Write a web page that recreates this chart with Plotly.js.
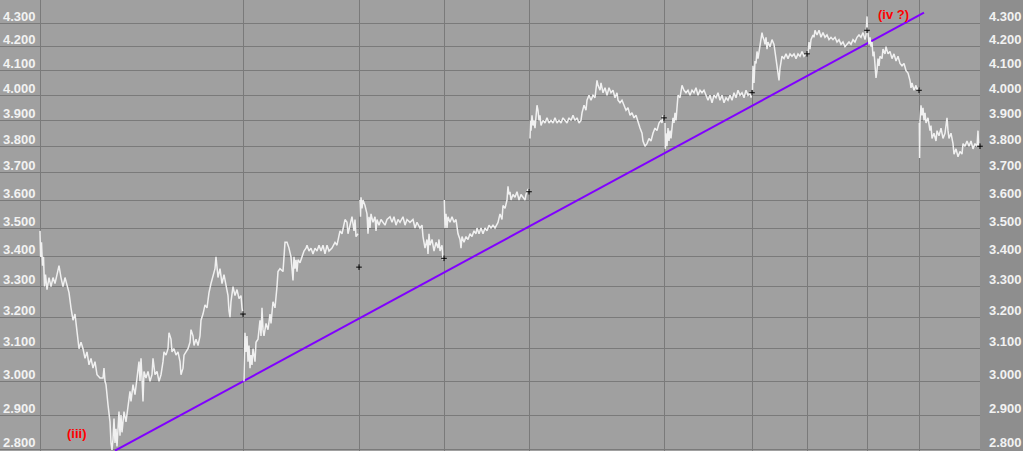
<!DOCTYPE html>
<html>
<head>
<meta charset="utf-8">
<script src="https://cdn.plot.ly/plotly-3.0.1.min.js"></script>
<style>
  html, body { margin: 0; padding: 0; background: #8e8e8e; }
  #chart { width: 1023px; height: 451px; }
</style>
</head>
<body>
<div id="chart"></div>
<script>
// ---- data (time index t = intraday bar position, price) ----
// sessions are separated by null (gap between trading days)
const priceT = [
  0,0.6,1.5,2.5,3.5,4.5,5.5,7,9,11,13,15,17,19,21,23,25,27,29,31,33,35,37,39,41,43,45,47,49,51,53,55,57,60,63,64,65,66,68,70,71,72,73,74,75,76,77,78,79,80,81,82,84,86,88,90,91,93,95,97,99,100,101,102,103,104,106,108,110,112,113,115,117,119,121,123,124,126,128,129,131,132,134,136,138,140,141,143,144,146,148,150,151,153,154,156,158,160,161,163,165,167,169,171,173,175,176,177,178,180,182,184,186,188,189,190,191,193,195,197,199,201,202,203,
  null,
  204,204.5,205,206,207,208,209,210,211,212,213,215,216,218,220,221,222,223,224,226,228,230,231,233,235,237,238,240,243,245,247,249,251,253,254,255,256,257,258,260,262,264,266,267,269,271,273,275,277,279,281,283,285,287,289,292,295,297,300,302,305,307,308,310,312,314,315,316,318,
  null,
  320,320.5,321,322,323,325,327,328,329,330,331,333,335,336,337,339,341,343,345,347,350,352,354,356,358,360,363,365,367,370,373,375,377,380,382,383,385,387,388,389,390,392,394,396,398,399,400,402,403,
  null,
  404.3,405,406,407,408,410,412,414,416,417,418,420,421,422,424,426,428,430,432,434,436,437,439,441,443,445,447,449,451,453,455,458,460,462,463,465,467,468,469,470,471,473,475,477,479,481,483,485,486,488,489,
  null,
  490,490.5,491,492,493,494,495,497,498,499,500,501,503,505,507,509,511,513,515,517,519,521,523,525,527,529,531,533,535,537,539,541,542,544,546,547,549,551,553,555,556,557,558,560,561,563,565,567,569,571,573,575,577,578,580,582,584,586,588,590,592,594,596,598,600,602,603,605,607,609,611,613,615,617,619,621,622,623,624,
  null,
  625,625.3,626,627,628,629,630,631,632,633,634,635,636,638,640,642,644,646,648,650,652,654,656,658,660,662,664,666,668,670,672,674,676,678,680,682,684,686,688,690,692,694,696,698,700,702,704,706,708,710,711,712,
  null,
  712.5,713,714,715,716,717,718,720,721,722,723,724,725,726,727,728,730,732,734,735,736,737,738,739,740,741,742,744,746,748,750,752,754,756,758,760,762,764,766,767,
  null,
  768,769,770,771,773,774,775,777,779,781,783,785,787,789,791,793,795,797,799,801,803,805,807,809,811,813,815,817,819,821,823,825,826,827,827.3,
  null,
  828,829,830,831,832,833,834,835,836,837,838,839,840,842,843,845,846,848,850,852,854,856,858,860,862,864,866,868,870,871,872,874,876,877,878,879,
  null,
  879.3,879.6,880,881,882,883,884,885,886,888,889,890,891,892,894,896,897,899,901,903,905,906,907,908,909,911,913,914,916,918,920,922,923,925,927,929,931,933,935,937,938,938.5,939
];
const priceP = [
  3.49,3.40,3.45,3.37,3.40,3.30,3.34,3.29,3.33,3.30,3.33,3.31,3.34,3.37,3.33,3.30,3.33,3.30,3.28,3.23,3.19,3.21,3.16,3.10,3.12,3.10,3.07,3.09,3.05,3.07,3.04,3.06,3.02,3.01,3.01,3.04,3.00,2.99,2.93,2.88,2.82,2.80,2.83,2.89,2.82,2.86,2.81,2.88,2.91,2.84,2.90,2.85,2.91,2.88,2.92,2.97,2.94,2.99,2.96,3.02,3.06,3.00,3.07,3.01,2.94,3.03,3.01,3.03,3.00,3.02,3.07,3.02,3.03,3.00,3.02,3.06,3.09,3.08,3.10,3.15,3.13,3.09,3.10,3.08,3.09,3.06,3.02,3.04,3.08,3.09,3.10,3.12,3.16,3.14,3.11,3.13,3.11,3.14,3.19,3.21,3.24,3.23,3.28,3.31,3.34,3.36,3.40,3.35,3.33,3.36,3.31,3.34,3.30,3.27,3.22,3.20,3.25,3.30,3.27,3.29,3.26,3.27,3.23,3.21,
  null,
  3.00,3.06,3.15,3.09,3.14,3.06,3.11,3.04,3.08,3.05,3.10,3.06,3.12,3.13,3.19,3.14,3.23,3.16,3.14,3.18,3.16,3.21,3.18,3.25,3.23,3.30,3.35,3.36,3.35,3.45,3.45,3.43,3.40,3.32,3.40,3.36,3.39,3.35,3.39,3.38,3.40,3.42,3.43,3.44,3.42,3.43,3.41,3.43,3.42,3.44,3.42,3.44,3.41,3.44,3.42,3.43,3.45,3.44,3.49,3.48,3.53,3.52,3.48,3.51,3.54,3.49,3.53,3.47,3.48,
  null,
  3.60,3.54,3.61,3.57,3.60,3.58,3.55,3.48,3.54,3.50,3.55,3.52,3.54,3.49,3.53,3.51,3.53,3.52,3.51,3.53,3.54,3.52,3.54,3.51,3.53,3.52,3.54,3.51,3.53,3.52,3.53,3.50,3.52,3.50,3.51,3.47,3.43,3.46,3.41,3.48,3.44,3.46,3.42,3.45,3.43,3.46,3.42,3.44,3.39,
  null,
  3.60,3.50,3.55,3.50,3.54,3.52,3.54,3.52,3.53,3.51,3.48,3.46,3.43,3.47,3.45,3.47,3.46,3.48,3.47,3.49,3.48,3.50,3.48,3.50,3.48,3.50,3.49,3.51,3.50,3.51,3.50,3.52,3.55,3.53,3.58,3.57,3.60,3.65,3.62,3.63,3.60,3.62,3.61,3.63,3.60,3.62,3.61,3.60,3.62,3.64,3.63,
  null,
  3.83,3.90,3.86,3.92,3.88,3.90,3.87,3.96,3.94,3.90,3.92,3.88,3.90,3.89,3.91,3.89,3.90,3.89,3.91,3.89,3.90,3.89,3.91,3.90,3.89,3.91,3.90,3.92,3.90,3.91,3.89,3.90,3.93,3.96,3.94,3.98,4.00,3.98,4.00,3.99,4.04,4.06,4.04,4.02,4.05,4.01,4.03,4.00,4.03,4.01,4.02,3.99,4.01,3.98,3.97,3.98,3.96,3.94,3.95,3.92,3.93,3.91,3.92,3.89,3.87,3.85,3.82,3.80,3.81,3.83,3.82,3.85,3.87,3.86,3.89,3.90,3.89,3.92,3.91,
  null,
  3.89,3.79,3.85,3.80,3.87,3.82,3.86,3.83,3.87,3.91,3.89,3.93,3.90,4.00,3.99,4.04,4.02,4.01,4.02,4.00,4.02,4.01,4.03,4.00,4.02,4.01,4.02,4.00,3.98,4.00,3.97,4.00,3.99,4.01,3.98,4.00,3.97,3.99,3.98,4.00,3.98,4.01,3.99,4.02,4.00,4.01,3.99,4.02,4.00,4.01,3.99,4.01,
  null,
  4.02,4.12,4.05,4.14,4.13,4.18,4.15,4.20,4.22,4.26,4.24,4.23,4.21,4.24,4.19,4.22,4.20,4.23,4.21,4.18,4.16,4.12,4.08,4.06,4.11,4.14,4.16,4.15,4.17,4.15,4.17,4.16,4.17,4.15,4.17,4.16,4.18,4.16,4.17,4.17,
  null,
  4.17,4.22,4.19,4.23,4.25,4.24,4.27,4.25,4.27,4.24,4.26,4.24,4.25,4.23,4.24,4.23,4.24,4.22,4.23,4.21,4.22,4.20,4.21,4.22,4.21,4.23,4.22,4.24,4.25,4.24,4.26,4.23,4.25,4.33,4.27,
  null,
  4.26,4.21,4.24,4.20,4.22,4.16,4.18,4.13,4.07,4.10,4.15,4.12,4.16,4.15,4.19,4.17,4.20,4.17,4.18,4.15,4.17,4.14,4.16,4.13,4.12,4.13,4.10,4.09,4.06,4.03,4.05,4.02,4.04,4.02,4.03,4.02,
  null,
  3.89,3.755,3.90,3.96,3.92,3.95,3.90,3.93,3.89,3.91,3.88,3.86,3.88,3.83,3.85,3.82,3.86,3.84,3.87,3.83,3.85,3.88,3.91,3.86,3.83,3.85,3.81,3.77,3.79,3.76,3.78,3.77,3.81,3.80,3.82,3.80,3.82,3.79,3.81,3.80,3.86,3.81,3.80
];
// session closes (black crosses)
const closeT = [203, 319, 404, 489, 624, 712, 767, 827, 879, 940];
const closeP = [3.21, 3.365, 3.395, 3.63, 3.91, 4.01, 4.17, 4.27, 4.02, 3.80];
// session boundaries (vertical grid)
const sessionStarts = [0, 203, 319, 404, 489, 624, 712, 767, 827, 879];
// trendline
const trendT = [75, 884];
const trendP = [2.798, 4.346];
// price ticks
const priceTicks = [2.8, 2.9, 3.0, 3.1, 3.2, 3.3, 3.4, 3.5, 3.6, 3.7, 3.8, 3.9, 4.0, 4.1, 4.2, 4.3];
const tickText = priceTicks.map(v => v.toFixed(3));
// wave labels
const waveLabels = ['(iii)', '(iv ?)'];
const waveT = [37, 853];
const waveP = [2.848, 4.338];

const yRange = [Math.log10(2.797), Math.log10(4.402)];
const labelFont = { family: 'Liberation Sans, Arial, sans-serif', size: 13, color: '#f2f2f2', weight: 'bold' };
const gridColor = '#7a7a7a';

const traces = [
  {
    x: trendT, y: trendP, type: 'scatter', mode: 'lines',
    line: { color: '#8000ff', width: 2 }, hoverinfo: 'skip', cliponaxis: false
  },
  {
    x: priceT, y: priceP, type: 'scatter', mode: 'lines', connectgaps: false,
    line: { color: '#f0f0f0', width: 1.5 }, hoverinfo: 'skip'
  },
  {
    x: closeT, y: closeP, type: 'scatter', mode: 'markers', yaxis: 'y2', cliponaxis: false,
    marker: { symbol: 'cross-thin', size: 4, line: { color: '#000000', width: 1 } }, hoverinfo: 'skip'
  }
];

const layout = {
  width: 1023, height: 451,
  margin: { l: 0, r: 43, t: 0, b: 0, pad: 0 },
  paper_bgcolor: '#8e8e8e',
  plot_bgcolor: '#a0a0a0',
  showlegend: false,
  xaxis: {
    range: [-40, 940], tickmode: 'array', tickvals: sessionStarts, showticklabels: false,
    showgrid: true, gridcolor: gridColor, gridwidth: 1, zeroline: false, ticks: '', showline: false
  },
  yaxis: {
    type: 'log', range: yRange, tickmode: 'array', tickvals: priceTicks, ticktext: tickText,
    showgrid: true, gridcolor: gridColor, gridwidth: 1, zeroline: false, ticks: '',
    ticklabelposition: 'inside', ticklabelstandoff: 0, ticklabelshift: -7,
    tickfont: labelFont, showline: false
  },
  yaxis2: {
    type: 'log', range: yRange, overlaying: 'y', side: 'right', tickmode: 'array',
    tickvals: priceTicks, ticktext: tickText, showgrid: false, zeroline: false, ticks: '',
    ticklabelstandoff: 8, ticklabelshift: -7, tickfont: labelFont, showline: false
  },
  annotations: waveLabels.map((txt, i) => ({
    text: txt, x: waveT[i], y: Math.log10(waveP[i]), xref: 'x', yref: 'y',
    showarrow: false, xanchor: 'center', yanchor: 'middle',
    font: { family: 'Liberation Sans, Arial, sans-serif', size: 13, color: '#ff0000', weight: 'bold' }
  }))
};

Plotly.newPlot('chart', traces, layout, { staticPlot: true, displayModeBar: false });
</script>
</body>
</html>
